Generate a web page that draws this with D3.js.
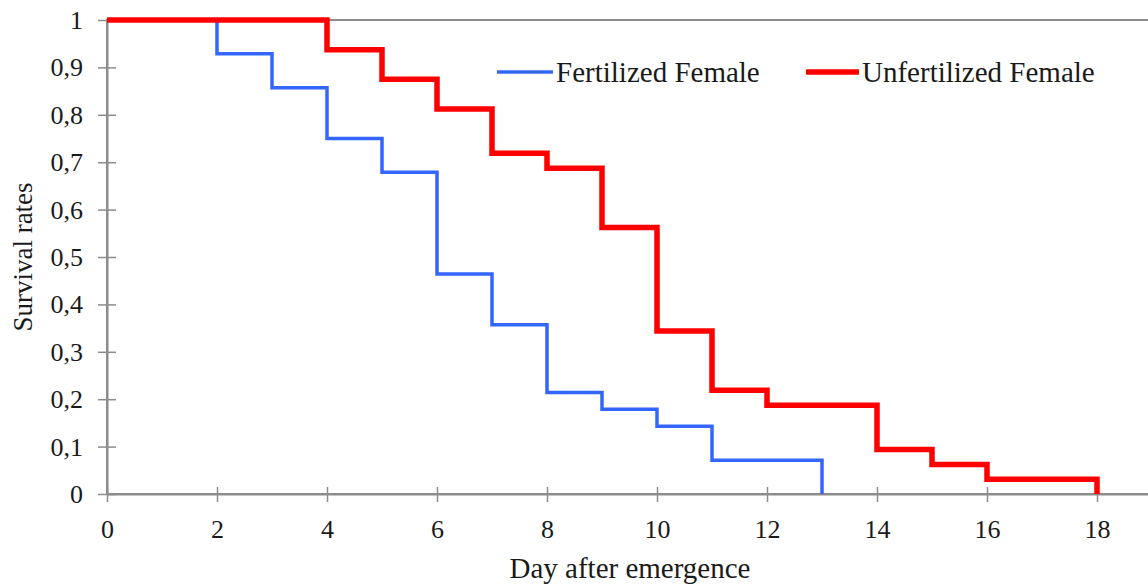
<!DOCTYPE html>
<html>
<head>
<meta charset="utf-8">
<script src="https://cdn.jsdelivr.net/npm/d3@7"></script>
<style>
  body { margin: 0; background: #fff; }
  svg text { font-family: "Times New Roman", "Liberation Serif", Times, "DejaVu Serif", serif; fill: #1a1a1a; }
</style>
</head>
<body>
<div id="chart"></div>
<script>
  // Survival data
  var fertDays = [0, 2, 3, 4, 5, 6, 7, 8, 9, 10, 11, 13]
  var fertSurvival = [1, 0.929, 0.857, 0.75, 0.679, 0.464, 0.357, 0.214, 0.179, 0.143, 0.071, 0]

  var unfertDays = [0, 4, 5, 6, 7, 8, 9, 10, 11, 12, 14, 15, 16, 18]
  var unfertSurvival = [1, 0.9375, 0.875, 0.8125, 0.719, 0.6875, 0.5625, 0.344, 0.219, 0.1875, 0.094, 0.0625, 0.031, 0]

  var xTicks = [0, 2, 4, 6, 8, 10, 12, 14, 16, 18]
  var yTicks = [0, 0.1, 0.2, 0.3, 0.4, 0.5, 0.6, 0.7, 0.8, 0.9, 1]

  var seriesNames = ['Fertilized Female', 'Unfertilized Female']
  var seriesColors = ['#3366ff', '#ff0000']

  var serif = '"Times New Roman", "Liberation Serif", Times, "DejaVu Serif", serif'

  var W = 1148, H = 588
  var margin = { left: 107, top: 20, right: -4, bottom: 94 }
  var width = W - margin.left - margin.right
  var height = H - margin.top - margin.bottom

  var svg = d3.select('#chart')
    .append('svg')
    .attr('width', W)
    .attr('height', H)

  var g = svg.append('g')
    .attr('transform', `translate(${margin.left},${margin.top})`)

  var x = d3.scaleLinear().domain([0, 19]).range([0, width])
  var y = d3.scaleLinear().domain([0, 1]).range([height, 0])

  var axisColor = '#8c8c8c'

  // plot area border (only top shows, the rest sits on the axes or off the page)
  g.append('rect')
    .attr('width', width)
    .attr('height', height)
    .attr('fill', 'none')
    .attr('stroke', axisColor)
    .attr('stroke-width', 2)

  // y axis
  var yAxis = d3.axisLeft(y)
    .tickValues(yTicks)
    .tickSize(0)
    .tickFormat(d => d === 0 || d === 1 ? String(d) : d3.format('.1f')(d).replace('.', ','))

  var yg = g.append('g').call(yAxis).attr('font-family', serif)
  yg.select('.domain').attr('stroke', axisColor).attr('stroke-width', 2)
  yg.selectAll('.tick line')
    .attr('x1', -9).attr('x2', 9)
    .attr('stroke', axisColor).attr('stroke-width', 1.5)
  yg.selectAll('.tick text')
    .attr('x', -24)
    .attr('dy', '0.33em')
    .attr('font-size', 26)
    .attr('fill', '#1a1a1a')

  // x axis
  var xAxis = d3.axisBottom(x)
    .tickValues(xTicks)
    .tickSize(0)
    .tickFormat(d => d)

  var xg = g.append('g')
    .attr('transform', `translate(0,${height})`)
    .call(xAxis)
    .attr('font-family', serif)
  xg.select('.domain').attr('stroke', axisColor).attr('stroke-width', 2)
  xg.selectAll('.tick line')
    .attr('y1', -7).attr('y2', 8)
    .attr('stroke', axisColor).attr('stroke-width', 1.5)
  xg.selectAll('.tick text')
    .attr('y', 44)
    .attr('dy', 0)
    .attr('font-size', 26)
    .attr('fill', '#1a1a1a')

  // axis titles
  g.append('text')
    .text('Day after emergence')
    .attr('x', 523)
    .attr('y', height + 84)
    .attr('text-anchor', 'middle')
    .attr('font-family', serif)
    .attr('font-size', 29)

  svg.append('text')
    .text('Survival rates')
    .attr('transform', `translate(32,${margin.top + height / 2}) rotate(-90)`)
    .attr('text-anchor', 'middle')
    .attr('font-family', serif)
    .attr('font-size', 27)

  // step lines
  var line = d3.line()
    .x(d => x(d.day))
    .y(d => y(d.value))
    .curve(d3.curveStepAfter)

  var fertData = fertDays.map((d, i) => ({ day: d, value: fertSurvival[i] }))
  var unfertData = unfertDays.map((d, i) => ({ day: d, value: unfertSurvival[i] }))

  g.append('path')
    .attr('d', line(fertData))
    .attr('fill', 'none')
    .attr('stroke', seriesColors[0])
    .attr('stroke-width', 3.5)

  g.append('path')
    .attr('d', line(unfertData))
    .attr('fill', 'none')
    .attr('stroke', seriesColors[1])
    .attr('stroke-width', 5.5)

  // legend
  var legendItems = [
    { name: seriesNames[0], color: seriesColors[0], w: 3.5, x1: 497, x2: 553 },
    { name: seriesNames[1], color: seriesColors[1], w: 5.5, x1: 806, x2: 859 }
  ]
  var legend = svg.append('g')
  legendItems.forEach(item => {
    legend.append('line')
      .attr('x1', item.x1).attr('x2', item.x2)
      .attr('y1', 72).attr('y2', 72)
      .attr('stroke', item.color)
      .attr('stroke-width', item.w)
    legend.append('text')
      .text(item.name)
      .attr('x', item.x2 + 3)
      .attr('y', 82)
      .attr('font-family', serif)
      .attr('font-size', 29)
  })
</script>
</body>
</html>
